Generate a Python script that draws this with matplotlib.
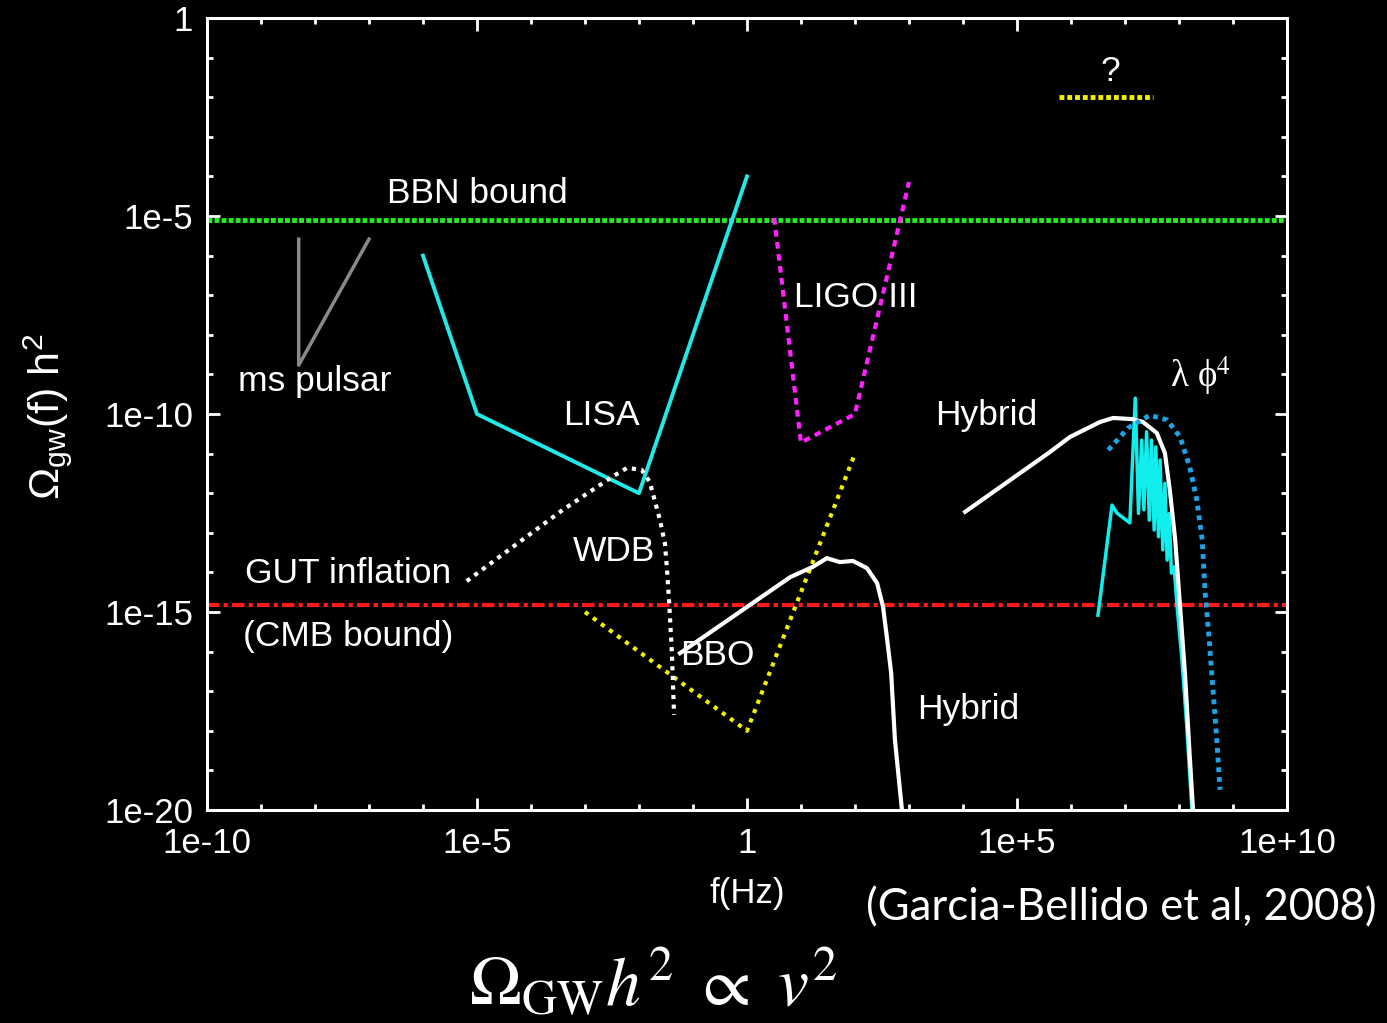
import numpy as np
import matplotlib.pyplot as plt
from matplotlib.ticker import FixedLocator, NullFormatter

plt.rcParams['font.family'] = ['Liberation Sans', 'DejaVu Sans']
plt.rcParams['mathtext.fontset'] = 'custom'
plt.rcParams['mathtext.rm'] = 'Liberation Sans'
plt.rcParams['mathtext.it'] = 'Liberation Sans:italic'
plt.rcParams['mathtext.bf'] = 'Liberation Sans:bold'

# bounds
bbn_level = 8e-6
cmb_level = 1.5e-15

# sensitivity curves, f in Hz, omega = Omega_gw h^2
pulsar_f = [5e-9, 5e-9, 1e-7]
pulsar_omega = [2.6e-6, 1.7e-9, 2.6e-6]

lisa_f = [1e-6, 1e-5, 1e-2, 1.0]
lisa_omega = [1e-6, 1e-10, 1e-12, 1e-4]

ligo_f = [3.2, 10.0, 100.0, 1000.0]
ligo_omega = [8.9e-6, 1.9e-11, 1e-10, 7.2e-5]

bbo_f = [1e-3, 1.0, 100.0]
bbo_omega = [1e-15, 1e-18, 1e-11]

unknown_f = [6e5, 3.3e7]
unknown_omega = [1e-2, 1e-2]

# GUT inflation / white dwarf binaries (log10 values)
wdb_logf = [-5.19, -3.41, -2.50, -2.22, -1.95, -1.80, -1.61, -1.52, -1.48, -1.44, -1.39, -1.35]
wdb_logomega = [-14.22, -12.42, -11.59, -11.36, -11.41, -11.72, -12.68, -13.26, -13.94, -14.77, -16.04, -17.6]

# hybrid inflation, low scale
hyb_lo_logf = [-1.24, 0.80, 1.22, 1.48, 1.72, 1.96, 2.22, 2.41, 2.52, 2.59, 2.67, 2.74, 2.87, 2.93]
hyb_lo_logomega = [-16.04, -14.12, -13.86, -13.64, -13.74, -13.71, -13.89, -14.27, -14.87, -15.63,
                   -16.54, -18.23, -20.0, -21.0]

# hybrid inflation, high scale
hyb_hi_logf = [4.04, 5.61, 5.98, 6.54, 6.78, 7.15, 7.33, 7.59, 7.74, 7.83, 7.93, 8.02, 8.11, 8.20, 8.26, 8.30]
hyb_hi_logomega = [-12.47, -10.96, -10.58, -10.20, -10.10, -10.13, -10.20, -10.48, -10.99, -11.92,
                   -13.18, -14.87, -16.54, -18.66, -20.0, -21.0]

# lambda phi^4 preheating
lphi_logf = [6.69, 7.06, 7.46, 7.78, 8.02, 8.20, 8.33, 8.43, 8.48, 8.56, 8.63, 8.70, 8.76]
lphi_logomega = [-10.91, -10.35, -10.03, -10.15, -10.58, -11.34, -12.17, -13.18, -14.44, -15.71,
                 -16.97, -18.23, -19.49]

# lattice spectrum
latt_logf = [6.50, 6.76, 6.85, 7.09, 7.19, 7.25, 7.31, 7.35, 7.40, 7.45, 7.49, 7.54, 7.57, 7.62,
             7.65, 7.70, 7.74, 7.78, 7.82, 7.86, 7.91, 7.96, 8.05, 8.14, 8.24]
latt_logomega = [-15.08, -12.30, -12.50, -12.75, -9.60, -12.51, -10.66, -12.42, -10.45, -12.68,
                 -10.66, -12.93, -10.83, -13.10, -11.16, -13.43, -11.75, -13.69, -12.51, -14.02,
                 -13.86, -14.78, -16.13, -17.81, -20.0]

x_major = [1e-10, 1e-5, 1.0, 1e5, 1e10]
x_tick_labels = ['1e-10', '1e-5', '1', '1e+5', '1e+10']
y_major = [1e-20, 1e-15, 1e-10, 1e-5, 1.0]
y_tick_labels = ['1e-20', '1e-15', '1e-10', '1e-5', '1']


def p10(v):
    return 10.0 ** np.asarray(v)


fig = plt.figure(figsize=(13.87, 10.23), dpi=100, facecolor='black')
ax = fig.add_axes([0.1492, 0.2082, 0.7787, 0.7742])
ax.set_facecolor('black')
ax.set_xscale('log')
ax.set_yscale('log')
ax.set_xlim(1e-10, 1e10)
ax.set_ylim(1e-20, 1)

for s in ax.spines.values():
    s.set_color('white')
    s.set_linewidth(2.2)

ax.xaxis.set_major_locator(FixedLocator(x_major))
ax.xaxis.set_minor_locator(FixedLocator([10.0 ** k for k in range(-10, 11) if k % 5]))
ax.yaxis.set_major_locator(FixedLocator(y_major))
ax.yaxis.set_minor_locator(FixedLocator([10.0 ** k for k in range(-20, 1) if k % 5]))
ax.xaxis.set_minor_formatter(NullFormatter())
ax.yaxis.set_minor_formatter(NullFormatter())
ax.set_xticklabels(x_tick_labels)
ax.set_yticklabels(y_tick_labels)
ax.tick_params(which='both', direction='in', top=True, right=True, color='white',
               width=2, labelcolor='white', labelsize=25)
ax.tick_params(which='major', length=9)
ax.tick_params(which='minor', length=4.5)
ax.tick_params(axis='x', pad=12)
ax.tick_params(axis='y', pad=10)

# bounds
ax.axhline(bbn_level, color='#22ee22', lw=3.5, dashes=(1, 0.45))
ax.axhline(cmb_level, color='#ff1a1a', lw=3, dashes=(3, 1, 1, 1))

# detectors
ax.plot(pulsar_f, pulsar_omega, color='#8a8a8a', lw=2.5)
ax.plot(lisa_f, lisa_omega, color='#22e8e8', lw=2.8)
ax.plot(ligo_f, ligo_omega, color='#ff22ff', lw=3, dashes=(1.6, 1.3))
ax.plot(bbo_f, bbo_omega, color='#f2f200', lw=3, dashes=(1, 1.4))
ax.plot(unknown_f, unknown_omega, color='#f2f200', lw=3.5, dashes=(1, 0.6))

# sources
ax.plot(p10(wdb_logf), p10(wdb_logomega), color='white', lw=3, dashes=(1, 1.3))
ax.plot(p10(latt_logf), p10(latt_logomega), color='#11eeee', lw=2.5)
ax.plot(p10(hyb_lo_logf), p10(hyb_lo_logomega), color='white', lw=3)
ax.plot(p10(hyb_hi_logf), p10(hyb_hi_logomega), color='white', lw=3)
ax.plot(p10(lphi_logf), p10(lphi_logomega), color='#1ea3e6', lw=3.5, dashes=(1, 1))

labels = [
    ('BBN bound', 1e-5, 10 ** -4.42),
    ('ms pulsar', 1e-8, 10 ** -9.17),
    ('LISA', 10 ** -2.70, 10 ** -10.03),
    ('LIGO III', 10 ** 2.02, 10 ** -7.05),
    ('Hybrid', 10 ** 4.43, 10 ** -10.03),
    ('WDB', 10 ** -2.46, 10 ** -13.46),
    ('GUT inflation', 10 ** -7.39, 10 ** -14.02),
    ('(CMB bound)', 10 ** -7.39, 10 ** -15.61),
    ('BBO', 10 ** -0.54, 10 ** -16.09),
    ('Hybrid', 10 ** 4.09, 10 ** -17.47),
    ('?', 10 ** 6.72, 10 ** -1.36),
]
for txt, x, y in labels:
    ax.text(x, y, txt, color='white', fontsize=25.5, ha='center', va='center')

ax.text(10 ** 8.39, 10 ** -9.05, 'λ ϕ$^{4}$', color='white', fontsize=26.5,
        ha='center', va='center', family=['Liberation Serif', 'DejaVu Serif'],
        math_fontfamily='stix')

fig.text(747 / 1387, 1 - 893 / 1023, 'f(Hz)', color='white', fontsize=25,
         ha='center', va='center')
fig.text(47 / 1387, 1 - 417 / 1023, r'$\Omega_{\rm gw}$(f) h$^2$', color='white',
         fontsize=31, rotation=90, ha='center', va='center')
fig.text(1377 / 1387, 1 - 908 / 1023, '(Garcia-Bellido et al, 2008)', color='white',
         fontsize=31.5, ha='right', va='center', family=['Lato', 'DejaVu Sans'])
fig.text(653 / 1387, 1 - 983 / 1023, r'$\Omega_{\mathrm{GW}}h^2\ \propto\ v^2$', color='white',
         fontsize=50, ha='center', va='center', math_fontfamily='stix')

fig.savefig('out.png', dpi=100, facecolor='black')
